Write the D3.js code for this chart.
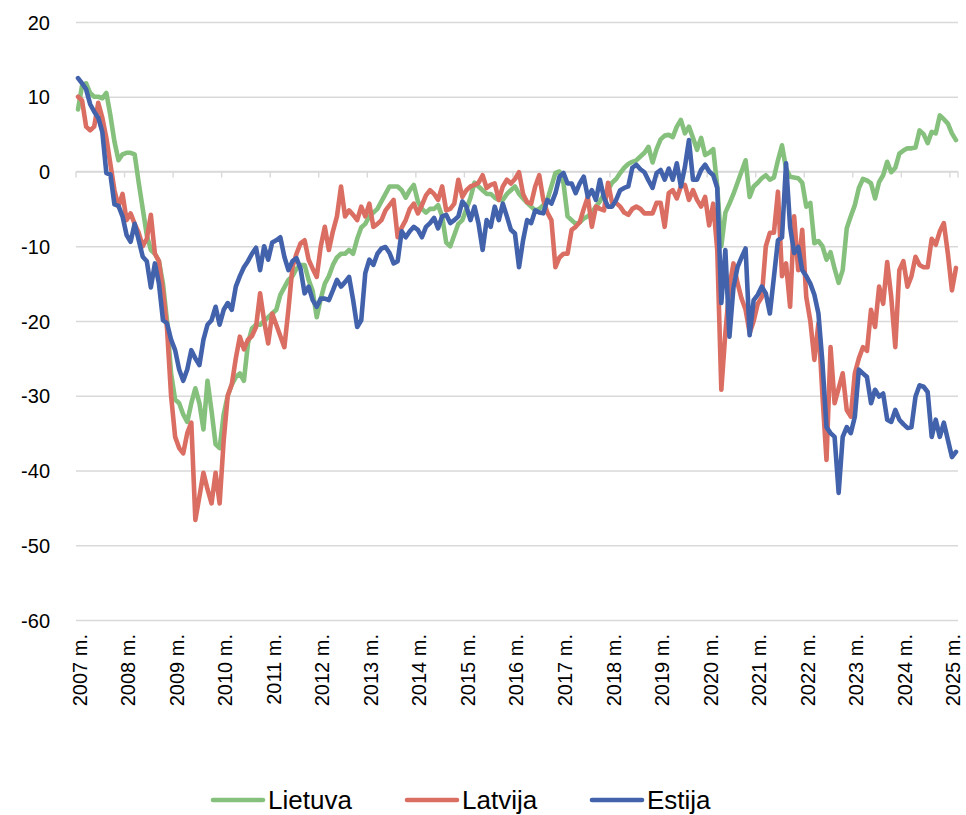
<!DOCTYPE html>
<html>
<head>
<meta charset="utf-8">
<script src="https://cdn.jsdelivr.net/npm/d3@7"></script>
<style>
  html, body { margin: 0; padding: 0; background: #fff; }
  svg { display: block; font-family: "Liberation Sans", Arial, sans-serif; }
</style>
</head>
<body>
<svg id="chart" width="966" height="815"></svg>
<script>
// ---------------- DATA ----------------
const years = [2007, 2008, 2009, 2010, 2011, 2012, 2013, 2014, 2015, 2016, 2017, 2018, 2019, 2020, 2021, 2022, 2023, 2024, 2025];
const monthsOfYear = ["01","02","03","04","05","06","07","08","09","10","11","12"];
const lastMonthCount = 2; // data for 2025 ends in February
const yearLabels = ["2007 m.","2008 m.","2009 m.","2010 m.","2011 m.","2012 m.","2013 m.","2014 m.","2015 m.","2016 m.","2017 m.","2018 m.","2019 m.","2020 m.","2021 m.","2022 m.","2023 m.","2024 m.","2025 m."];
const yTicks = [-60, -50, -40, -30, -20, -10, 0, 10, 20];
const yTickLabels = ["-60", "-50", "-40", "-30", "-20", "-10", "0", "10", "20"];
const seriesNames = ["Lietuva", "Latvija", "Estija"];
const seriesColors = ["#86C07D", "#DB6E63", "#4262AC"];

const lietuva = [
  8.3, 11.5, 11.8, 10.5, 10, 10, 9.8, 10.5, 7.5, 4, 1.5, 2.3,
  2.5, 2.5, 2.3, -1.5, -5, -8.5, -10.5, -11, -12, -15, -20, -27,
  -30.5, -31, -32.5, -33.5, -31, -29, -31, -34.5, -28, -32, -36.5, -37,
  -32.5, -30, -28.5, -27.5, -27, -28, -23, -21, -20.5, -20.5, -20, -19.5,
  -19, -18.5, -16.5, -15.5, -14.5, -14, -13, -12.5, -12.5, -14.5, -16, -19.5,
  -17, -15, -14, -12.5, -11.5, -11, -11, -10.5, -11, -9, -7.5, -7,
  -6, -5.5, -5, -4, -3, -2, -2, -2, -2.5, -3.5, -2.5, -1.8,
  -4, -5, -5.5, -5, -5, -4.5, -6, -9.5, -10, -8.5, -7, -6.5,
  -5, -3.5, -1.5, -2, -2.5, -3, -3, -3.5, -3.8, -3.8, -3, -2.5,
  -2, -3, -3.6, -4.2, -4.7, -5.2, -5, -4.5, -3.8, -2, -0.2, 0,
  -1.6, -6, -6.5, -7, -6.8, -6.3, -6, -5.5, -4.7, -4, -3, -2.5,
  -1.5, -1, -0.2, 0.5, 1, 1.3, 1.5, 2, 2.5, 3.3, 1.2, 3,
  4.3, 4.8, 4.9, 4.6, 6, 6.9, 5.1, 6, 4.5, 2.9, 4.5, 2.2,
  2.5, 3, -2, -10, -5.5, -4.3, -3, -1.5, 0, 1.5, -3.4, -2,
  -1.5, -0.9, -0.5, -1.1, -0.8, 1.5, 3.5, 0.4, -0.7, -0.8, -0.9, -1.5,
  -4.7, -4.2, -9.6, -9.3, -10, -11.8, -10.8, -13, -14.9, -13.2, -7.6, -6,
  -4.5, -2.2, -1, -1.2, -1.6, -3.6, -1.4, -0.5, 1.3, -0.1, 0.5, 2.4,
  2.8, 3.1, 3.1, 3.2, 5.5, 5, 3.8, 5.3, 5.1, 7.5, 7, 6.4,
  5.1, 4.2
];

const latvija = [
  10, 9.5, 6, 5.5, 6, 9.2, 7.2, 4.5, 1, -2.5, -4.7, -3,
  -6.5, -5.6, -7, -8.2, -10, -9, -5.8, -11, -12, -16, -21, -30,
  -35.5, -37, -37.7, -35, -33.6, -46.6, -43.5, -40.3, -42.5, -44.4, -40.3, -44.4,
  -36, -30, -28.5, -25, -22.1, -23.8, -22.5, -22, -20.8, -16.3, -20, -23,
  -19, -20.5, -22, -23.5, -18.5, -12.8, -11, -9.6, -9.2, -11.8, -13, -14.1,
  -10, -7.4, -10.5, -8, -6, -2, -6, -5.2, -5.8, -6.5, -4.7, -6,
  -4.3, -7.4, -7, -6.5, -5.2, -4.5, -3.8, -8.8, -7.5, -6.5, -5, -4.3,
  -5.6, -4.5, -3.2, -2.5, -3, -3.8, -2, -5.2, -5, -4.3, -1.1, -3.4,
  -2.5, -2, -1.8, -1.5, -0.5, -2.2, -1.8, -1.6, -3.8, -2, -1.1, -1.6,
  -1, -0.1, -3, -4.1, -4.3, -2, -0.5, -3.8, -5.5, -6.5, -12.8, -11.5,
  -11, -11, -7.8, -7.4, -6.8, -5, -3.4, -7.4, -4.7, -5, -5.2, -1.5,
  -4.2, -4.2, -4.7, -5.5, -5.8, -5, -4.7, -5, -5.6, -5.6, -5.6, -4.2,
  -4.2, -7.4, -2.9, -2.5, -3.6, -2, -1.8, -3.8, -2.5, -3.8, -4.7, -3.4,
  -7.2, -4.3, -10.5, -29.2, -21.6, -15.4, -12.3, -14.9, -17, -18.5, -21.6, -20,
  -17.7, -16.8, -10, -8.2, -8.2, -2.7, -14, -12.3, -18.1, -6, -13.2, -7.8,
  -16.8, -20, -25.2, -20.3, -30, -38.6, -23.5, -31, -29, -27, -31.9, -32.8,
  -27, -25, -23.5, -24, -18.5, -20.8, -15.4, -17.7, -12.1, -16.8, -23.5, -13.2,
  -12, -15.4, -14, -11.4, -12.5, -12.8, -12.8, -9, -9.8, -8, -6.9, -11,
  -15.9, -12.9
];

const estija = [
  12.5, 11.8, 11, 9, 8, 7.2, 5.3, -0.2, -0.4, -4.4, -4.6, -6,
  -8.5, -9.4, -7, -9.2, -11.4, -12, -15.5, -12.3, -15, -19.9, -20.3, -22.5,
  -23.9, -26.5, -28, -26.5, -23.9, -25, -25.9, -22.5, -20.5, -19.9, -18.1, -20.5,
  -18.5, -17.6, -18.5, -15.4, -14, -12.8, -12, -11, -10.2, -13.2, -10, -11.8,
  -9.5, -9.2, -8.8, -11.4, -13.2, -12, -11.6, -13, -16.3, -15.4, -17.2, -18.1,
  -17, -17, -17.2, -15.9, -14.5, -15.4, -14.8, -14.1, -17.2, -20.8, -19.9, -13.6,
  -11.8, -12.5, -11, -10.3, -10.1, -10.9, -12.3, -12, -8, -8.8, -8, -7.4,
  -7.8, -8.8, -7.4, -6.9, -6.2, -7.6, -6, -5.8, -6.9, -6.5, -6, -4,
  -4.7, -6.5, -4.7, -7, -10.5, -6.5, -7.4, -4.7, -6.5, -4.3, -6, -7.8,
  -8.3, -12.8, -9.2, -6.5, -6.9, -5.2, -5.5, -5.6, -3.8, -4.3, -2.9, -0.7,
  -0.2, -1.6, -1.6, -2.9, -1.6, -0.7, -3.4, -2.5, -3.8, -1.1, -3.5, -4.7,
  -4.7, -3.8, -2.5, -2.2, -2, 0.5, 0.9, 0.3, -0.1, -1.2, -2.2, -0.2,
  0.2, -1.1, 0.4, -1.1, 1.1, -2, 0.6, 4.2, -1.1, -1.1, 0.2, 0.9,
  0, -0.5, -2.2, -17.6, -10.5, -22.1, -15.5, -12.8, -11.5, -10.3, -21.9, -17.2,
  -16.5, -15.4, -16.3, -19, -14.1, -9.2, -8.8, 1.1, -7.4, -10.9, -10.1, -13.2,
  -14, -15, -16.5, -19, -25.6, -34.2, -35, -35.5, -43, -35.5, -34.2, -35,
  -32.8, -26.5, -27, -27.5, -31, -29.2, -30.1, -29.7, -33.2, -33.5, -31.9, -33.2,
  -33.8, -34.3, -34.2, -30.1, -28.6, -28.8, -29.5, -35.5, -33.2, -35.5, -33.6, -35.9,
  -38.2, -37.5
];

// ---------------- BUILD ----------------
const categories = [];
years.forEach((yr, yi) => {
  const ms = yi === years.length - 1 ? monthsOfYear.slice(0, lastMonthCount) : monthsOfYear;
  ms.forEach(m => categories.push(yr + "-" + m));
});

const series = [lietuva, latvija, estija];

const svg = d3.select("#chart");
const plotLeft = 76, plotRight = 958, plotTop = 22, plotBottom = 620;

const x = d3.scaleBand().domain(categories).range([plotLeft, plotRight]).paddingInner(0).paddingOuter(0);
const xc = c => x(c) + x.bandwidth() / 2;
const y = d3.scaleLinear().domain([-60, 20]).range([plotBottom, plotTop]);

const gridColor = "#d9d9d9";

// horizontal gridlines + y labels
const yAxis = d3.axisLeft(y)
  .tickValues(yTicks)
  .tickSize(-(plotRight - plotLeft))
  .tickPadding(26)
  .tickFormat((d, i) => yTickLabels[i]);

const gy = svg.append("g")
  .attr("transform", `translate(${plotLeft},0)`)
  .call(yAxis);
gy.select(".domain").remove();
gy.selectAll(".tick line").attr("stroke", gridColor).attr("stroke-width", 1.4);
gy.selectAll(".tick text")
  .attr("fill", "#000")
  .attr("font-size", 20)
  .attr("font-family", "'Liberation Sans', Arial, sans-serif")
  .attr("dy", "0.35em");

// category axis at y = 0 with tick marks between years
const janCats = years.map(yr => yr + "-01");
const gx = svg.append("g");
gx.append("line")
  .attr("x1", plotLeft).attr("x2", plotRight)
  .attr("y1", y(0)).attr("y2", y(0))
  .attr("stroke", gridColor).attr("stroke-width", 1.4);
const tickXs = janCats.map(c => x(c)).concat([plotRight]);
gx.selectAll("line.tk")
  .data(tickXs)
  .join("line")
  .attr("class", "tk")
  .attr("x1", d => d).attr("x2", d => d)
  .attr("y1", y(0)).attr("y2", y(0) + 6)
  .attr("stroke", gridColor).attr("stroke-width", 1.4);

// year labels (rotated) at bottom
svg.append("g")
  .selectAll("text")
  .data(janCats)
  .join("text")
  .attr("transform", (c) => `translate(${xc(c) + 1.5},634) rotate(-90)`)
  .attr("text-anchor", "end")
  .attr("dy", "0.35em")
  .attr("font-size", 20)
  .attr("fill", "#000")
  .text((c, i) => yearLabels[i]);

// lines
const line = d3.line()
  .x((d, i) => xc(categories[i]))
  .y(d => y(d))
  .curve(d3.curveLinear);

svg.append("g")
  .selectAll("path")
  .data(series)
  .join("path")
  .attr("d", d => line(d))
  .attr("fill", "none")
  .attr("stroke", (d, i) => seriesColors[i])
  .attr("stroke-width", 4.6)
  .attr("stroke-linejoin", "round")
  .attr("stroke-linecap", "round");

// legend
const legendX = [213, 407, 592];
const legendY = 800;
const lg = svg.append("g");
seriesNames.forEach((name, i) => {
  lg.append("line")
    .attr("x1", legendX[i]).attr("x2", legendX[i] + 50)
    .attr("y1", legendY).attr("y2", legendY)
    .attr("stroke", seriesColors[i])
    .attr("stroke-width", 4.6)
    .attr("stroke-linecap", "round");
  lg.append("text")
    .attr("x", legendX[i] + 55)
    .attr("y", legendY + 9)
    .attr("font-size", 26)
    .attr("fill", "#000")
    .text(name);
});
</script>
</body>
</html>
